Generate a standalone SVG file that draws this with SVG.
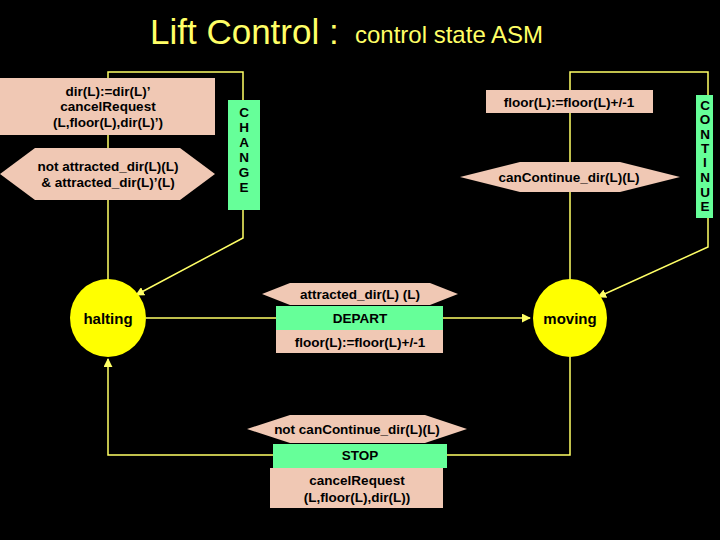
<svg xmlns="http://www.w3.org/2000/svg" width="720" height="540" viewBox="0 0 720 540">
<defs>
<style>
text{font-family:"Liberation Sans",Arial,sans-serif;font-weight:bold;text-anchor:middle}
.pk{fill:#f0c8b4}
.gr{fill:#66ff99}
.st{fill:#ffff00}
.ln{stroke:#ffff66;stroke-width:1.5;fill:none}
.t{font-size:13.5px;fill:#000}
</style>
<marker id="a" viewBox="0 0 10 10" refX="9" refY="5" markerWidth="6" markerHeight="6" orient="auto"><path d="M0,0 L10,5 L0,10z" fill="#ffff66"/></marker>
</defs>
<rect width="720" height="540" fill="#000"/>
<text x="150" y="44" font-size="35" fill="#ffff66" style="font-weight:normal;text-anchor:start">Lift Control :</text>
<text x="355" y="43" font-size="24" fill="#ffff66" style="font-weight:normal;text-anchor:start">control state ASM</text>
<g id="connectors">
<path class="ln" d="M108,280 V72 H243 V100 M243,210 V238 L136,295" marker-end="url(#a)"/>
<path class="ln" d="M570,280 V72 H708 V95 M708,218 V247 L598,297" marker-end="url(#a)"/>
<path class="ln" d="M146,318 H276"/>
<path class="ln" d="M443,318 H530" marker-end="url(#a)"/>
<path class="ln" d="M570,357 V455 H447"/>
<path class="ln" d="M273,455 H108 V359" marker-end="url(#a)"/>
</g>
<g id="change_update"><rect class="pk" x="0" y="78" width="215" height="57"/>
<text class="t" x="108" y="96">dir(L):=dir(L)’</text><text class="t" x="108" y="111">cancelRequest</text><text class="t" x="108" y="127">(L,floor(L),dir(L)’)</text></g>
<g id="change_cond"><polygon class="pk" points="0,174 35,148 180,148 215,174 180,200 35,200"/>
<text class="t" x="108" y="171">not attracted_dir(L)(L)</text><text class="t" x="108" y="187">&amp; attracted_dir(L)’(L)</text></g>
<g id="change"><rect class="gr" x="228" y="100" width="32" height="110"/>
<text class="t" x="244" y="117" font-size="11">C</text><text class="t" x="244" y="132" font-size="11">H</text><text class="t" x="244" y="147" font-size="11">A</text><text class="t" x="244" y="162" font-size="11">N</text><text class="t" x="244" y="177" font-size="11">G</text><text class="t" x="244" y="192" font-size="11">E</text></g>
<g id="continue_update"><rect class="pk" x="486" y="90" width="167" height="23"/><text class="t" x="569" y="107">floor(L):=floor(L)+/-1</text></g>
<g id="continue_cond"><polygon class="pk" points="460,177 520,162 620,162 680,177 620,192 520,192"/><text class="t" x="569" y="182">canContinue_dir(L)(L)</text></g>
<g id="continue"><rect class="gr" x="696" y="95" width="17" height="123"/>
<text class="t" x="705" y="110" font-size="11">C</text><text class="t" x="705" y="124" font-size="11">O</text><text class="t" x="705" y="139" font-size="11">N</text><text class="t" x="705" y="153" font-size="11">T</text><text class="t" x="705" y="167" font-size="11">I</text><text class="t" x="705" y="182" font-size="11">N</text><text class="t" x="705" y="197" font-size="11">U</text><text class="t" x="705" y="211" font-size="11">E</text></g>
<g id="halting"><ellipse class="st" cx="108" cy="318" rx="38" ry="39"/><text x="108" y="324" font-size="15">halting</text></g>
<g id="moving"><ellipse class="st" cx="570" cy="318" rx="37" ry="39"/><text x="570" y="324" font-size="15">moving</text></g>
<g id="depart"><polygon class="pk" points="262,294 290,283 430,283 458,294 430,305 290,305"/><text class="t" x="360" y="299">attracted_dir(L) (L)</text>
<rect class="gr" x="276" y="306" width="167" height="24"/><text class="t" x="360" y="323">DEPART</text>
<rect class="pk" x="276" y="330" width="167" height="23"/><text class="t" x="360" y="347">floor(L):=floor(L)+/-1</text></g>
<g id="stop"><polygon class="pk" points="247,429 290,415 425,415 467,429 425,443 290,443"/><text class="t" x="357" y="434">not canContinue_dir(L)(L)</text>
<rect class="gr" x="273" y="444" width="174" height="24"/><text class="t" x="360" y="460">STOP</text>
<rect class="pk" x="270" y="468" width="173" height="40"/><text class="t" x="357" y="485">cancelRequest</text><text class="t" x="357" y="502">(L,floor(L),dir(L))</text></g>
</svg>
